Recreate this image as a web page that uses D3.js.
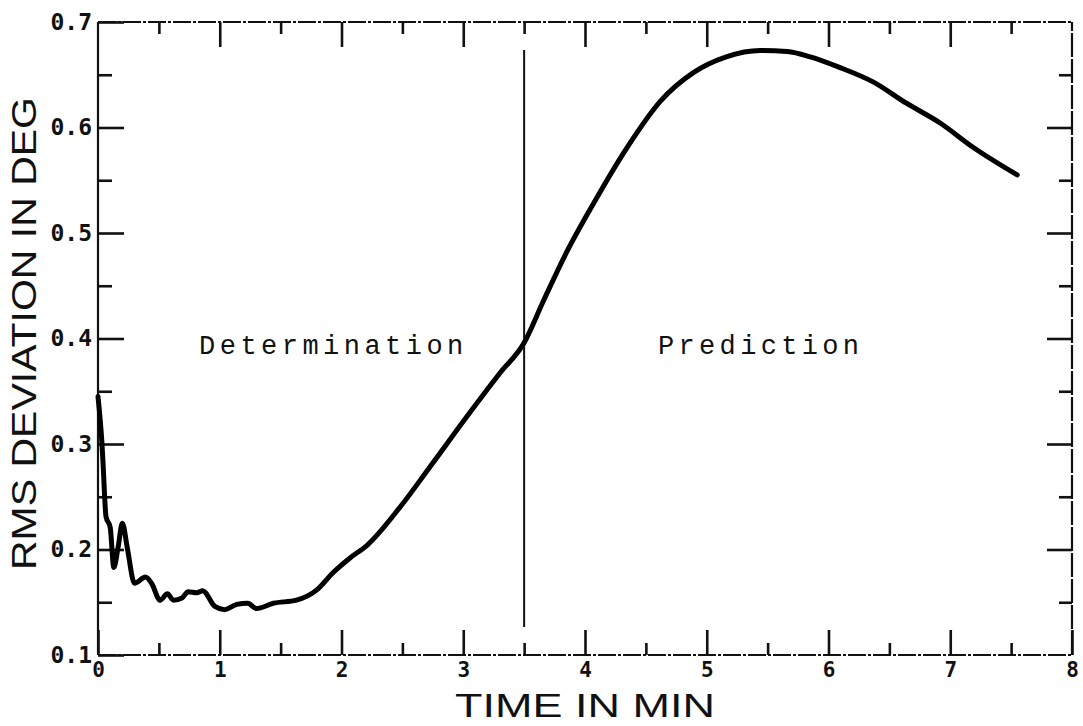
<!DOCTYPE html>
<html>
<head>
<meta charset="utf-8">
<script src="https://cdn.jsdelivr.net/npm/d3@7"></script>
<style>
  body { margin: 0; background: #fff; }
  svg { display: block; }
  .tick text { font-family: "DejaVu Sans Mono", monospace; font-weight: bold; fill: #111; }
</style>
</head>
<body>
<div class="grafico"></div>
<script>
const width = 1083, height = 726;

// curve: time in min, rms deviation in deg
const timeMin = [0, 0.02, 0.03, 0.04, 0.066, 0.10, 0.13, 0.165, 0.20, 0.24, 0.30, 0.39, 0.44,
    0.51, 0.57, 0.62, 0.69, 0.74, 0.81, 0.86, 0.96, 1.04, 1.14, 1.23, 1.30, 1.44, 1.63, 1.80,
    1.93, 2.07, 2.21, 2.48, 2.75, 3.03, 3.30, 3.50, 3.66, 3.85, 4.07, 4.34, 4.62, 4.89, 5.16,
    5.44, 5.66, 5.85, 6.09, 6.37, 6.64, 6.92, 7.19, 7.55];
const rmsDev = [0.345, 0.32, 0.305, 0.285, 0.231, 0.221, 0.183, 0.202, 0.225, 0.202, 0.168, 0.174, 0.168,
    0.152, 0.158, 0.152, 0.154, 0.160, 0.159, 0.161, 0.146, 0.143, 0.148, 0.149, 0.144, 0.149, 0.152, 0.162,
    0.178, 0.192, 0.204, 0.240, 0.282, 0.326, 0.367, 0.396, 0.436, 0.482, 0.528, 0.580, 0.625, 0.652, 0.667,
    0.673, 0.672, 0.667, 0.657, 0.643, 0.623, 0.604, 0.581, 0.555];

const xMajor = [0, 1, 2, 3, 4, 5, 6, 7, 8];
const xMinor = [0.5, 1.5, 2.5, 3.5, 4.5, 5.5, 6.5, 7.5];
const yMajor = [0.1, 0.2, 0.3, 0.4, 0.5, 0.6, 0.7];
const yMinor = [0.15, 0.25, 0.35, 0.45, 0.55, 0.65];

const splitTime = 3.5;
const regions = [
    { name: "Determination", x0: 0.83, x1: 3.0 },
    { name: "Prediction", x0: 4.6, x1: 6.25 }
];
const regionY = 0.385;

const x = d3.scaleLinear().domain([0, 8]).range([98, 1072]);
const y = d3.scaleLinear().domain([0.1, 0.7]).range([655, 22]);

const svg = d3.select(".grafico")
    .append("svg")
    .attr("width", width)
    .attr("height", height);

// frame: left side solid, the others look broken in the scan
const frame = [
    { x1: 0, y1: 0.1, x2: 0, y2: 0.7, dash: null },
    { x1: 0, y1: 0.7, x2: 8, y2: 0.7, dash: "18,2,3,2" },
    { x1: 0, y1: 0.1, x2: 8, y2: 0.1, dash: "18,2,3,2" },
    { x1: 8, y1: 0.1, x2: 8, y2: 0.7, dash: "24,2" }
];
svg.selectAll(".frame")
    .data(frame)
    .enter().append("line")
    .attr("class", "frame")
    .attr("x1", d => x(d.x1)).attr("y1", d => y(d.y1))
    .attr("x2", d => x(d.x2)).attr("y2", d => y(d.y2))
    .attr("stroke", "#111")
    .attr("stroke-width", 2.2)
    .attr("stroke-dasharray", d => d.dash);

function styleAxis(g, fontSize) {
    g.select(".domain").remove();
    g.selectAll(".tick line").attr("stroke", "#111").attr("stroke-width", 2.6);
    g.selectAll(".tick text").style("font-size", fontSize + "px");
}

// bottom
svg.append("g")
    .attr("transform", `translate(0,${y(0.1)})`)
    .call(d3.axisBottom(x).tickValues(xMajor).tickSize(-25).tickPadding(7).tickFormat(d3.format("d")))
    .call(g => styleAxis(g, 21));
svg.append("g")
    .attr("transform", `translate(0,${y(0.1)})`)
    .call(d3.axisBottom(x).tickValues(xMinor).tickSize(-12).tickFormat(""))
    .call(g => styleAxis(g, 0));

// top
svg.append("g")
    .attr("transform", `translate(0,${y(0.7)})`)
    .call(d3.axisTop(x).tickValues(xMajor.slice(1, -1)).tickSize(-25).tickFormat(""))
    .call(g => styleAxis(g, 0));
svg.append("g")
    .attr("transform", `translate(0,${y(0.7)})`)
    .call(d3.axisTop(x).tickValues(xMinor).tickSize(-12).tickFormat(""))
    .call(g => styleAxis(g, 0));

// left
svg.append("g")
    .attr("transform", `translate(${x(0)},0)`)
    .call(d3.axisLeft(y).tickValues(yMajor).tickSize(-26).tickPadding(6).tickFormat(d3.format(".1f")))
    .call(g => styleAxis(g, 23));
svg.append("g")
    .attr("transform", `translate(${x(0)},0)`)
    .call(d3.axisLeft(y).tickValues(yMinor).tickSize(-14).tickFormat(""))
    .call(g => styleAxis(g, 0));

// right
svg.append("g")
    .attr("transform", `translate(${x(8)},0)`)
    .call(d3.axisRight(y).tickValues(yMajor.slice(1, -1)).tickSize(-25).tickFormat(""))
    .call(g => styleAxis(g, 0));
svg.append("g")
    .attr("transform", `translate(${x(8)},0)`)
    .call(d3.axisRight(y).tickValues(yMinor).tickSize(-13).tickFormat(""))
    .call(g => styleAxis(g, 0));

// split line between determination and prediction
svg.append("line")
    .attr("x1", x(splitTime)).attr("x2", x(splitTime))
    .attr("y1", y(0.7) + 28).attr("y2", y(0.1) - 28)
    .attr("stroke", "#111")
    .attr("stroke-width", 2);

svg.selectAll(".region")
    .data(regions)
    .enter().append("text")
    .attr("class", "region")
    .attr("x", d => x(d.x0))
    .attr("y", y(regionY))
    .attr("textLength", d => x(d.x1) - x(d.x0))
    .attr("lengthAdjust", "spacing")
    .style("font-family", "'Liberation Mono', monospace")
    .style("font-size", "27px")
    .attr("fill", "#111")
    .text(d => d.name);

// curve
const pts = timeMin.map((t, i) => [t, rmsDev[i]]);
const line = d3.line()
    .x(d => x(d[0]))
    .y(d => y(d[1]))
    .curve(d3.curveMonotoneX);

svg.append("path")
    .datum(pts)
    .attr("d", line)
    .attr("fill", "none")
    .attr("stroke", "#000")
    .attr("stroke-width", 5)
    .attr("stroke-linejoin", "round")
    .attr("stroke-linecap", "round");

// axis titles
svg.append("text")
    .attr("x", 455)
    .attr("y", 717)
    .attr("textLength", 260)
    .attr("lengthAdjust", "spacingAndGlyphs")
    .style("font-family", "'Liberation Sans', sans-serif")
    .style("font-size", "33px")
    .attr("fill", "#111")
    .text("TIME IN MIN");

svg.append("text")
    .attr("transform", "translate(36,570) rotate(-90)")
    .attr("x", 0)
    .attr("y", 0)
    .attr("textLength", 473)
    .attr("lengthAdjust", "spacingAndGlyphs")
    .style("font-family", "'Liberation Sans', sans-serif")
    .style("font-size", "35px")
    .attr("fill", "#111")
    .text("RMS DEVIATION IN DEG");
</script>
</body>
</html>
